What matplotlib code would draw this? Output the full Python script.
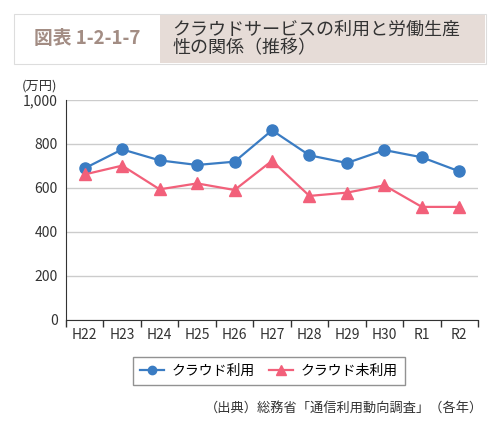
import matplotlib.pyplot as plt
from matplotlib.patches import Rectangle
import numpy as np

plt.rcParams['font.family'] = ['Noto Sans CJK JP', 'DejaVu Sans']

years = ["H22", "H23", "H24", "H25", "H26", "H27", "H28", "H29", "H30", "R1", "R2"]
cloud_use = [689, 775, 725, 704, 719, 862, 748, 713, 772, 739, 675]
cloud_nouse = [661, 701, 593, 620, 590, 723, 563, 578, 611, 513, 513]
yticks = [0, 200, 400, 600, 800, 1000]
ytick_labels = ["0", "200", "400", "600", "800", "1,000"]

blue = "#3a7cc3"
pink = "#f2607a"
dark = "#333333"

fig = plt.figure(figsize=(5, 4.25), dpi=100)

# title header
W, H = 500, 425
def fx(px): return px / W
def fy(py): return 1 - py / H
fig.patches.append(Rectangle((fx(14), fy(64)), fx(472), 50 / H, transform=fig.transFigure,
                             facecolor="white", edgecolor="#dddddd", lw=0.8))
fig.patches.append(Rectangle((fx(160), fy(63)), fx(325), 48 / H, transform=fig.transFigure,
                             facecolor="#e6dcd7", edgecolor="none"))
fig.text(fx(87), fy(39), "図表 1-2-1-7", ha="center", va="center", fontsize=13.5,
         fontweight="bold", color="#a38d84")
fig.text(fx(172), fy(39), "クラウドサービスの利用と労働生産\n性の関係（推移）", ha="left", va="center",
         fontsize=13, color="#333333", linespacing=1.0)

ax = fig.add_axes([fx(66), fy(319.5), fx(478) - fx(66), 219.5 / H])
x = np.arange(len(years))
ax.plot(x, cloud_use, color=blue, marker="o", markersize=8, lw=1.6, label="クラウド利用")
ax.plot(x, cloud_nouse, color=pink, marker="^", markersize=9, lw=1.6, label="クラウド未利用")

ax.set_xlim(-0.5, len(years) - 0.5)
ax.set_ylim(0, 1000)
ax.set_yticks(yticks)
ax.set_yticklabels(ytick_labels)
ax.set_xticks(x)
ax.set_xticklabels(years)
ax.set_xticks(np.arange(-0.5, len(years), 1), minor=True)
ax.tick_params(axis="x", which="major", length=0, pad=6, labelsize=10, colors=dark)
ax.tick_params(axis="x", which="minor", length=5, color=dark, width=1)
ax.tick_params(axis="y", length=0, pad=6, labelsize=10, colors=dark)
ax.grid(axis="y", color="#cccccc", lw=1)
ax.set_axisbelow(True)
for s in ["top", "right"]:
    ax.spines[s].set_visible(False)
ax.spines["left"].set_color(dark)
ax.spines["bottom"].set_color(dark)
ax.spines["bottom"].set_zorder(3)

fig.text(fx(22), fy(86), "(万円)", ha="left", va="center", fontsize=9.5, color=dark)

leg = fig.legend(loc="center", bbox_to_anchor=(fx(269), fy(371)), ncol=2, frameon=True,
                 fancybox=False, edgecolor="#777777", fontsize=10, handlelength=1.7,
                 markerscale=0.75, columnspacing=1.0, handletextpad=0.6, borderpad=0.5)
leg.get_frame().set_linewidth(1.0)

fig.text(fx(483), fy(408), "（出典）総務省「通信利用動向調査」（各年）", ha="right", va="center",
         fontsize=9.5, color=dark)

fig.savefig("out.png", dpi=100)
